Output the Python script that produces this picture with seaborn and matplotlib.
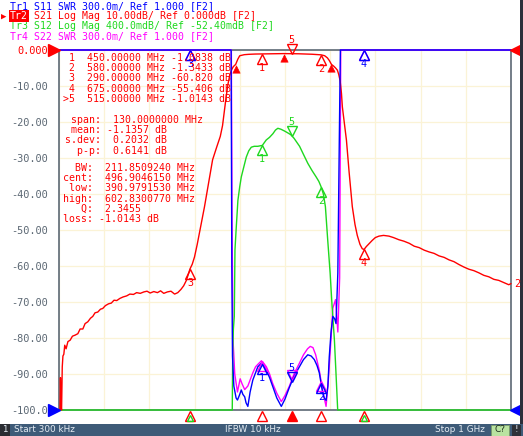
import numpy as np
import pandas as pd
import seaborn as sns
import matplotlib
matplotlib.use("Agg")
import matplotlib.pyplot as plt
from matplotlib.patches import Rectangle
from matplotlib.transforms import offset_copy

# S21 (Tr2, log mag dB)
red_f = [0.3, 2.5, 3.5, 4.7, 6, 7.5, 9, 11, 13, 16, 20, 25, 30, 36, 42, 47, 53, 58, 64, 70,
         75, 80, 86, 92, 97, 103, 110, 116, 122, 128, 135, 142, 150, 157, 165, 172, 180, 188,
         195, 202, 210, 218, 225, 232, 240, 248, 256, 263, 270, 276, 282, 290, 295, 300, 306,
         311, 317, 322, 329, 335, 340, 345, 349, 353, 357, 362, 366, 370, 374, 378, 382, 386,
         391, 396, 400, 410, 420, 435, 450, 465, 480, 497, 515, 530, 545, 560, 570, 580, 588,
         594, 598, 603, 608, 612, 616, 619, 622, 625, 627, 631, 636, 642, 649, 655, 660, 666,
         671, 675, 680, 686, 693, 700, 708, 718, 730, 740, 752, 763, 775, 786, 797, 808, 819,
         830, 841, 852, 863, 874, 885, 896, 907, 918, 929, 940, 951, 962, 973, 984, 995, 1000]
red_db = [-100, -100, -91, -99, -100, -88, -85, -84.5, -82, -83, -81, -80.6, -79.5, -79.2, -78.8,
          -77.5, -77.5, -76, -75.5, -74.5, -74, -73, -72.8, -72, -71.8, -71, -70.5, -70.3, -69.5,
          -69.6, -69, -68.6, -68.3, -67.8, -67.9, -67.4, -67.6, -67.2, -67.0, -67.5, -67.1, -67.4,
          -66.9, -67.6, -67.2, -67.0, -67.8, -67.4, -66.5, -65.5, -64, -60.82, -59.5, -57.5, -54,
          -50.8, -47, -43.6, -38.5, -34, -30.5, -28.5, -27, -25.5, -24, -21, -17, -13, -9.5, -7,
          -5.5, -4.6, -4.01, -2.5, -1.6, -1.3, -1.2, -1.12, -1.0838, -1.05, -1.02, -1.0, -1.0143,
          -1.05, -1.1, -1.18, -1.25, -1.3433, -1.6, -2.2, -2.9, -4.01, -4.5, -5.0, -5.6, -6.8,
          -8.5, -12, -15.8, -20, -25, -34, -43.5, -48.5, -51.5, -54, -55.2, -55.406, -54.6, -53.8,
          -52.9, -52.1, -51.7, -51.5, -51.7, -52.1, -52.7, -53.1, -53.7, -54.5, -54.9, -55.6,
          -56.1, -56.5, -57.2, -57.6, -58.3, -58.8, -59.6, -60.3, -60.9, -61.3, -61.9, -62.6,
          -63.0, -63.7, -64.0, -64.6, -65.2, -64.9]

# S11 (Tr1, SWR)
blue_f = [0.3, 381, 382.5, 384, 387, 392, 395, 399, 403.5, 407, 411, 414, 418, 423, 429, 435,
          440, 448, 453, 459, 466, 473.6, 482, 492, 500, 510, 520, 532, 541, 550.5, 558, 565,
          571, 576, 580, 583.6, 587, 591, 595, 598, 602, 606, 610, 613, 617, 620.4, 622.6, 1000]
blue_swr = [8, 8, 2.2, 1.45, 1.2, 1.1, 1.083, 1.12, 1.167, 1.13, 1.11, 1.06, 1.03, 1.15, 1.25,
            1.31, 1.36, 1.39, 1.37, 1.33, 1.27, 1.19, 1.10, 1.03, 1.09, 1.19, 1.28, 1.36, 1.42,
            1.46, 1.45, 1.42, 1.37, 1.31, 1.22, 1.14, 1.10, 1.08, 1.2, 1.44, 1.65, 1.78, 1.76,
            1.72, 2.14, 3.3, 8, 8]

# S22 (Tr4, SWR)
mag_f = [0.3, 381.5, 383, 385, 389, 395, 401, 405, 411, 418, 424, 429, 435, 440, 448, 453, 459,
         466, 473, 482, 492, 500, 510, 520, 532, 541, 550, 556, 562, 568, 576, 584, 591, 596,
         602, 606, 612, 617, 621, 623.5, 1000]
mag_swr = [8, 8, 2.6, 1.6, 1.3, 1.15, 1.26, 1.22, 1.17, 1.2, 1.26, 1.31, 1.36, 1.38, 1.41, 1.39,
           1.36, 1.3, 1.22, 1.14, 1.07, 1.12, 1.2, 1.3, 1.39, 1.46, 1.51, 1.53, 1.52, 1.46, 1.33,
           1.15, 1.03, 1.25, 1.6, 1.85, 1.92, 1.65, 2.1, 8, 8]

# S12 (Tr3, log mag dB, 0.4 dB/div)
green_f = [0.3, 383.5, 384.5, 386, 388, 389.5, 392, 396, 400, 403.5, 409, 414.5, 420, 425.6,
           432, 440, 450, 458.6, 466, 473.4, 479, 484.3, 491, 499, 506, 512.6, 520, 532.4, 541,
           550.7, 560, 569, 575, 580, 585, 589.5, 594.6, 600, 604.3, 609.4, 613, 616.7, 618, 1000]
green_db = [-60, -60, -51.75, -51.5, -51.36, -50.62, -50.4, -50.07, -49.92, -49.81, -49.7,
            -49.59, -49.52, -49.48, -49.47, -49.47, -49.46, -49.40, -49.37, -49.33, -49.29,
            -49.27, -49.28, -49.30, -49.32, -49.34, -49.38, -49.47, -49.56, -49.66, -49.74,
            -49.81, -49.86, -49.92, -50.0, -50.14, -50.51, -50.88, -51.25, -51.62, -52.0, -52.4,
            -60, -60]

marker_f = [450, 580, 290, 675, 515]
marker_names = ["1", "2", "3", "4", "5"]
bw_f = [390.979153, 496.904615, 602.830077]

header_lines = ["Tr1 S11 SWR 300.0m/ Ref 1.000 [F2]",
                "Tr2 S21 Log Mag 10.00dB/ Ref 0.000dB [F2]",
                "Tr3 S12 Log Mag 400.0mdB/ Ref -52.40mdB [F2]",
                "Tr4 S22 SWR 300.0m/ Ref 1.000 [F2]"]
marker_table = [" 1  450.00000 MHz -1.0838 dB",
                " 2  580.00000 MHz -1.3433 dB",
                " 3  290.00000 MHz -60.820 dB",
                " 4  675.00000 MHz -55.406 dB",
                ">5  515.00000 MHz -1.0143 dB"]
stats_table = [" span:  130.0000000 MHz",
               " mean: -1.1357 dB",
               "s.dev:  0.2032 dB",
               "  p-p:  0.6141 dB"]
bw_table = ["  BW:  211.8509240 MHz",
            "cent:  496.9046150 MHz",
            " low:  390.9791530 MHz",
            "high:  602.8300770 MHz",
            "   Q:  2.3455",
            "loss: -1.0143 dB"]
ytick_vals = list(range(0, -101, -10))
ytick_labels = ["0.000"] + [f"{v:.2f}" for v in ytick_vals[1:-1]] + ["-100.0"]

RED, BLUE, GREEN, MAG = "#ff0000", "#0000ff", "#1ed81e", "#ff00ff"
GREY = "#5c6874"
MONO = ["DejaVu Sans Mono", "DejaVu Sans"]
W, H = 523, 436


def disp_db(v):
    return np.clip(np.asarray(v, float), -100, 0)


def disp_swr(v):
    return np.clip(-100 + (np.asarray(v, float) - 1.0) / 0.3 * 10, -100, 0)


def disp_green(v):
    return np.clip(-100 + (np.asarray(v, float) + 52.4) / 0.4 * 10, -100, 0)


def px(x, y):
    return x / W, 1 - y / H


sns.set_theme(style="white")
plt.rcParams["font.family"] = MONO

fig = plt.figure(figsize=(W / 100, H / 100), dpi=100)
fig.patch.set_facecolor("white")
ax = fig.add_axes([59 / W, 26 / H, 452 / W, 360 / H])

ax.set_xlim(0.3, 1000)
ax.set_ylim(-100, 0)
ax.set_xticks(np.linspace(0.3, 1000, 11))
ax.set_xticklabels([])
ax.set_yticks(ytick_vals)
ax.set_yticklabels(ytick_labels)
ax.tick_params(axis="both", length=0)
ax.tick_params(axis="y", pad=8, labelsize=7.4, labelcolor=GREY)
ax.get_yticklabels()[0].set_color(RED)
ax.grid(True, color="#fbf3d6", linewidth=0.9)
for s in ax.spines.values():
    s.set_color(GREY)
    s.set_linewidth(1.2)

traces = [
    (mag_f, disp_swr(mag_swr), MAG),
    (green_f, disp_green(green_db), GREEN),
    (red_f, disp_db(red_db), RED),
    (blue_f, disp_swr(blue_swr), BLUE),
]
for f, y, c in traces:
    sns.lineplot(x=f, y=y, ax=ax, color=c, linewidth=1.0, estimator=None, sort=False,
                 clip_on=False, zorder=3)


def mark(f_list, y_list, color, names, active="5", txt=True):
    for f, y, n in zip(f_list, y_list, names):
        up = (n == active)
        tri = offset_copy(ax.transData, fig=fig, x=0, y=3.4 if up else -3.4, units="points")
        ax.plot([f], [y], marker="v" if up else "^", ms=6.5, mfc="none", mec=color, mew=1.0,
                transform=tri, clip_on=False, zorder=5)
        if txt:
            lab = offset_copy(ax.transData, fig=fig, x=0, y=10 if up else -10, units="points")
            ax.text(f, y, n, color=color, fontsize=7.3, ha="center", va="center",
                    transform=lab, clip_on=False, zorder=5)


red_mk = np.interp(marker_f, red_f, disp_db(red_db))
blue_mk = np.interp(marker_f, blue_f, disp_swr(blue_swr))
mag_mk = np.interp(marker_f, mag_f, disp_swr(mag_swr))
green_mk = np.interp(marker_f, green_f, disp_green(green_db))

mark(marker_f, mag_mk, MAG, marker_names, txt=False)
mark([450, 580, 515], [green_mk[0], green_mk[1], green_mk[4]], GREEN, ["1", "2", "5"])
mark(marker_f, blue_mk, BLUE, marker_names)
mark(marker_f, red_mk, RED, marker_names)

# bandwidth search markers
bw_y = np.interp(bw_f, red_f, disp_db(red_db))
tri = offset_copy(ax.transData, fig=fig, x=0, y=-3, units="points")
sns.scatterplot(x=bw_f, y=bw_y, ax=ax, marker="^", s=28, color=RED, edgecolor=RED,
                transform=tri, zorder=6, clip_on=False)

# stimulus indicators below the grid
bot = offset_copy(ax.transData, fig=fig, x=0, y=-4.6, units="points")
for f, n in zip(marker_f, marker_names):
    ax.plot([f], [-100], marker="^", ms=7.5, mfc=RED if n == "5" else "none", mec=RED,
            mew=1.0, transform=bot, clip_on=False, zorder=5)
    if n in ("3", "4"):
        ax.plot([f], [-100], marker="^", ms=4.5, mfc="none", mec=GREEN, mew=1.0,
                transform=offset_copy(ax.transData, fig=fig, x=0, y=-6, units="points"),
                clip_on=False, zorder=5)

# reference position triangles
for xx, yy, m, c, dx in [(0.3, 0, ">", RED, -3.6), (0.3, -100, ">", BLUE, -3.6),
                          (1000, 0, "<", RED, 3.6), (1000, -100, "<", BLUE, 3.6)]:
    ax.plot([xx], [yy], marker=m, ms=8.5, color=c, mec=c,
            transform=offset_copy(ax.transData, fig=fig, x=dx, y=0, units="points"),
            clip_on=False, zorder=6)
fig.text(*px(517, 284), "2", color=RED, fontsize=7.3, ha="center", va="center")

# header
hdr_colors = [BLUE, RED, GREEN, MAG]
for i, (s, c) in enumerate(zip(header_lines, hdr_colors)):
    fig.text(*px(10, 6 + i * 10), s, color=c, fontsize=7.1, ha="left", va="center")
fig.text(*px(10, 16), "Tr2", color="white", fontsize=7.1, ha="left", va="center",
         bbox=dict(boxstyle="square,pad=0.12", fc=RED, ec="none"))
fig.text(*px(1, 16), "\u25b6", color=RED, fontsize=6.5, ha="left", va="center")

# marker readout
for i, s in enumerate(marker_table):
    fig.text(*px(63, 58 + i * 10.2), s, color=RED, fontsize=7.1, ha="left", va="center")
for i, s in enumerate(stats_table):
    fig.text(*px(65, 120 + i * 10.2), s, color=RED, fontsize=7.1, ha="left", va="center")
for i, s in enumerate(bw_table):
    fig.text(*px(63, 168 + i * 10.2), s, color=RED, fontsize=7.1, ha="left", va="center")

# right edge strip and status bar
fig.add_artist(Rectangle((520 / W, 12 / H), 3 / W, 1, transform=fig.transFigure,
                         fc="#2c2f3a", ec="none"))
fig.add_artist(Rectangle((0, 0), 1, 12.5 / H, transform=fig.transFigure,
                         fc="#3e5b78", ec="none"))
fig.add_artist(Rectangle((0, 0), 10 / W, 12.5 / H, transform=fig.transFigure,
                         fc="#2a2d33", ec="none"))
fig.add_artist(Rectangle((491 / W, 0.5 / H), 18 / W, 11 / H, transform=fig.transFigure,
                         fc="#b9e3a1", ec="#7a9a6a", lw=0.6))
fig.add_artist(Rectangle((512 / W, 0.5 / H), 9 / W, 11 / H, transform=fig.transFigure,
                         fc="#2e3138", ec="none"))
sb = dict(fontsize=6.4, va="center", color="#e4ebf2", family=["DejaVu Sans"])
fig.text(*px(5, 429.5), "1", ha="center", **sb)
fig.text(*px(14, 429.5), "Start 300 kHz", ha="left", **sb)
fig.text(*px(253, 429.5), "IFBW 10 kHz", ha="center", **sb)
fig.text(*px(485, 429.5), "Stop 1 GHz", ha="right", **sb)
fig.text(*px(500, 429.5), "C?", ha="center", fontsize=6.4, va="center", color="#1b2b1b",
         family=["DejaVu Sans"])
fig.text(*px(516.5, 429.5), "!", ha="center", **sb)

fig.savefig("out.png", dpi=100)
